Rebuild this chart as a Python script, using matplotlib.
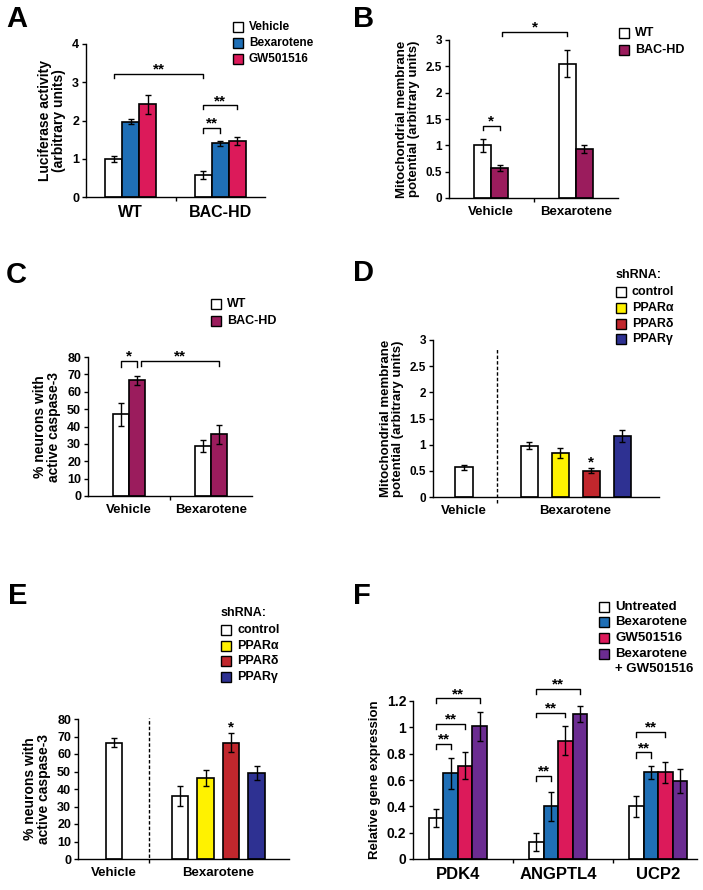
import matplotlib
matplotlib.use("Agg")
import matplotlib.pyplot as plt
import numpy as np
from matplotlib.patches import Rectangle

plt.rcParams['font.family'] = ['Liberation Sans', 'DejaVu Sans']
plt.rcParams['font.weight'] = 'bold'
plt.rcParams['axes.linewidth'] = 1.0

# colours
WHITE = '#ffffff'
BLUE = '#1f6fb6'
PINK = '#dc1a5a'
PURPLE = '#6b2c91'
MAROON = '#9b1c5d'
YELLOW = '#fff200'
RED = '#c1272d'
NAVY = '#2e3192'

# Panel A - luciferase activity
a_groups = ['WT', 'BAC-HD']
a_series = ['Vehicle', 'Bexarotene', 'GW501516']
a_vehicle = [1.0, 0.58]
a_bex = [1.97, 1.40]
a_gw = [2.42, 1.46]
a_vehicle_err = [0.08, 0.11]
a_bex_err = [0.07, 0.07]
a_gw_err = [0.25, 0.11]

# Panel B - mitochondrial membrane potential
b_groups = ['Vehicle', 'Bexarotene']
b_series = ['WT', 'BAC-HD']
b_wt = [1.0, 2.55]
b_hd = [0.57, 0.93]
b_wt_err = [0.12, 0.26]
b_hd_err = [0.05, 0.08]

# Panel C - active caspase-3
c_groups = ['Vehicle', 'Bexarotene']
c_series = ['WT', 'BAC-HD']
c_wt = [47, 29]
c_hd = [66.5, 35.5]
c_wt_err = [6.5, 3.5]
c_hd_err = [2.5, 5.5]

# Panel D - shRNA, membrane potential
sh_labels = ['control', 'PPARα', 'PPARδ', 'PPARγ']
d_vehicle = 0.57
d_vehicle_err = 0.05
d_bex = [0.98, 0.84, 0.50, 1.17]
d_bex_err = [0.07, 0.09, 0.05, 0.11]

# Panel E - shRNA, caspase-3
e_vehicle = 66.5
e_vehicle_err = 2.5
e_bex = [36, 46.5, 66.5, 49]
e_bex_err = [5.5, 4.5, 5.5, 4]

# Panel F - gene expression
f_genes = ['PDK4', 'ANGPTL4', 'UCP2']
f_series = ['Untreated', 'Bexarotene', 'GW501516', 'Bexarotene\n+ GW501516']
f_untreated = [0.31, 0.13, 0.40]
f_bex = [0.65, 0.40, 0.66]
f_gw = [0.71, 0.90, 0.66]
f_combo = [1.01, 1.10, 0.59]
f_untreated_err = [0.07, 0.07, 0.08]
f_bex_err = [0.12, 0.11, 0.05]
f_gw_err = [0.10, 0.11, 0.08]
f_combo_err = [0.11, 0.06, 0.09]

W, H = 703, 890
fig = plt.figure(figsize=(W / 100, H / 100), dpi=100)


def add_ax(l, r, b, t):
    return fig.add_axes([l / W, 1 - b / H, (r - l) / W, (b - t) / H])


def style(ax, ylim, yticks, yticklabels, ylabel, yfs=8, lfs=8.5, lfam=None):
    for s in ['top', 'right']:
        ax.spines[s].set_visible(False)
    ax.set_ylim(*ylim)
    ax.set_yticks(yticks)
    ax.set_yticklabels(yticklabels, fontsize=yfs, fontweight='bold')
    ax.tick_params(axis='y', length=3, width=1, pad=2)
    kw = {}
    if lfam:
        kw['family'] = lfam
    ax.set_ylabel(ylabel, fontsize=lfs, fontweight='bold', linespacing=1.0, **kw)


def bars(ax, x, vals, errs, color, width):
    ax.bar(x, vals, width, color=color, edgecolor='black', linewidth=1.2, zorder=2)
    ax.errorbar(x, vals, yerr=errs, fmt='none', ecolor='black', elinewidth=1,
                capsize=2.2, capthick=1, zorder=3)


def bracket(ax, x1, x2, y, h, txt, fs=11):
    ax.plot([x1, x1, x2, x2], [y - h, y, y, y - h], color='black', lw=1, clip_on=False)
    ax.annotate(txt, ((x1 + x2) / 2, y), xytext=(0, -2), textcoords='offset points',
                ha='center', va='bottom', fontsize=fs, fontweight='bold',
                annotation_clip=False)


def legend(x, ys, labels, colors, fs=8, box=10, gap=6):
    for y, lab, c in zip(ys, labels, colors):
        if c is not None:
            fig.add_artist(Rectangle((x / W, 1 - (y + box / 2) / H), box / W, box / H,
                                     facecolor=c, edgecolor='black', lw=1,
                                     transform=fig.transFigure))
        fig.text((x + box + gap) / W, 1 - y / H, lab, fontsize=fs, fontweight='bold',
                 ha='left', va='center', linespacing=1.0)


def panel_label(x, y, s):
    fig.text(x / W, 1 - y / H, s, fontsize=21, fontweight='bold', ha='left', va='center')


def cat_xaxis(ax, n, labels, fs):
    ax.set_xticks(np.arange(n))
    ax.set_xticklabels(labels, fontsize=fs, fontweight='bold')
    ax.tick_params(axis='x', length=0, pad=6)
    ax.set_xticks(np.arange(n - 1) + 0.5, minor=True)
    ax.tick_params(axis='x', which='minor', length=3, width=1, direction='out')


# ---------- A ----------
ax = add_ax(86, 265, 197, 44)
x = np.arange(len(a_groups))
w = 0.19
bars(ax, x - w, a_vehicle, a_vehicle_err, WHITE, w)
bars(ax, x, a_bex, a_bex_err, BLUE, w)
bars(ax, x + w, a_gw, a_gw_err, PINK, w)
ax.set_xlim(-0.5, 1.5)
style(ax, (0, 4), range(5), [str(i) for i in range(5)],
      'Luciferase activity\n(arbitrary units)', yfs=9, lfs=10)
cat_xaxis(ax, 2, a_groups, 11.5)
bracket(ax, x[0] - w, x[1] - w, 3.22, 0.1, '**')
bracket(ax, x[1] - w, x[1], 1.80, 0.12, '**')
bracket(ax, x[1] - w, x[1] + w, 2.40, 0.1, '**')
legend(233, [27, 43, 59], a_series, [WHITE, BLUE, PINK], fs=8.5)
panel_label(6, 19, 'A')

# ---------- B ----------
ax = add_ax(449, 618, 198, 40)
x = np.arange(len(b_groups))
w = 0.2
bars(ax, x - w / 2, b_wt, b_wt_err, WHITE, w)
bars(ax, x + w / 2, b_hd, b_hd_err, MAROON, w)
ax.set_xlim(-0.5, 1.5)
style(ax, (0, 3), [0, 0.5, 1, 1.5, 2, 2.5, 3], ['0', '0.5', '1', '1.5', '2', '2.5', '3'],
      'Mitochondrial membrane\npotential (arbitrary units)', yfs=8.5, lfs=9.5,
      lfam=['Liberation Sans Narrow', 'Liberation Sans'])
cat_xaxis(ax, 2, b_groups, 9.5)
bracket(ax, x[0] - w / 2, x[0] + w / 2, 1.37, 0.08, '*')
bracket(ax, x[0] + w / 2 + 0.03, x[1] - w / 2, 3.15, 0.08, '*')
legend(619, [33, 50], b_series, [WHITE, MAROON], fs=9)
panel_label(353, 19, 'B')

# ---------- C ----------
ax = add_ax(88, 252, 496, 357)
x = np.arange(len(c_groups))
w = 0.2
bars(ax, x - w / 2, c_wt, c_wt_err, WHITE, w)
bars(ax, x + w / 2, c_hd, c_hd_err, MAROON, w)
ax.set_xlim(-0.5, 1.5)
style(ax, (0, 80), range(0, 81, 10), [str(i) for i in range(0, 81, 10)],
      '% neurons with\nactive caspase-3', yfs=9, lfs=10)
cat_xaxis(ax, 2, c_groups, 9.5)
bracket(ax, x[0] - w / 2, x[0] + w / 2, 77.6, 3.5, '*')
bracket(ax, x[0] + w / 2 + 0.05, x[1] + w / 2, 77.6, 3.0, '**')
legend(211, [304, 321], c_series, [WHITE, MAROON], fs=9)
panel_label(6, 275, 'C')

# ---------- D ----------
ax = add_ax(433, 659, 497, 340)
xb = 2.1 + np.arange(len(sh_labels))
sh_colors = [WHITE, YELLOW, RED, NAVY]
w = 0.55
bars(ax, [0], [d_vehicle], [d_vehicle_err], WHITE, w)
bars(ax, xb, d_bex, d_bex_err, sh_colors, w)
ax.set_xlim(-1.0, 6.29)
style(ax, (0, 3), [0, 0.5, 1, 1.5, 2, 2.5, 3], ['0', '0.5', '1', '1.5', '2', '2.5', '3'],
      'Mitochondrial membrane\npotential (arbitrary units)', yfs=8.5, lfs=9.5,
      lfam=['Liberation Sans Narrow', 'Liberation Sans'])
ax.set_xticks([0, xb.mean()])
ax.set_xticklabels(['Vehicle', 'Bexarotene'], fontsize=9.5, fontweight='bold')
ax.tick_params(axis='x', length=0, pad=6)
ax.axvline(1.06, ymin=-0.04, ymax=0.95, color='black', lw=1, ls=(0, (2.5, 1.5)), clip_on=False)
ax.annotate('*', (xb[2], d_bex[2] + d_bex_err[2] + 0.03), xytext=(0, -2),
            textcoords='offset points', ha='center', va='bottom',
            fontsize=11, fontweight='bold')
fig.text(616 / W, 1 - 275 / H, 'shRNA:', fontsize=9, fontweight='bold', ha='left', va='center')
legend(616, [292, 308, 324, 339], sh_labels, sh_colors, fs=9)
panel_label(353, 273, 'D')

# ---------- E ----------
ax = add_ax(78, 289, 859, 719)
xb = 2.59 + np.arange(len(sh_labels))
w = 0.65
bars(ax, [0], [e_vehicle], [e_vehicle_err], WHITE, w)
bars(ax, xb, e_bex, e_bex_err, sh_colors, w)
ax.set_xlim(-1.41, 6.86)
style(ax, (0, 80), range(0, 81, 10), [str(i) for i in range(0, 81, 10)],
      '% neurons with\nactive caspase-3', yfs=9, lfs=10)
ax.set_xticks([0, xb.mean()])
ax.set_xticklabels(['Vehicle', 'Bexarotene'], fontsize=9.5, fontweight='bold')
ax.tick_params(axis='x', length=0, pad=6)
ax.axvline(1.37, ymin=-0.03, ymax=1.01, color='black', lw=1, ls=(0, (2.5, 1.5)), clip_on=False)
ax.annotate('*', (xb[2], e_bex[2] + e_bex_err[2] + 1), xytext=(0, -2),
            textcoords='offset points', ha='center', va='bottom',
            fontsize=11, fontweight='bold')
fig.text(221 / W, 1 - 613 / H, 'shRNA:', fontsize=9, fontweight='bold', ha='left', va='center')
legend(221, [630, 646, 661, 677], sh_labels, sh_colors, fs=9)
panel_label(8, 596, 'E')

# ---------- F ----------
ax = add_ax(413, 697, 859, 701)
x = np.arange(len(f_genes))
w = 0.145
offs = np.array([-1.5, -0.5, 0.5, 1.5]) * w
f_vals = [f_untreated, f_bex, f_gw, f_combo]
f_errs = [f_untreated_err, f_bex_err, f_gw_err, f_combo_err]
f_colors = [WHITE, BLUE, PINK, PURPLE]
for o, v, e, c in zip(offs, f_vals, f_errs, f_colors):
    bars(ax, x + o, v, e, c, w)
ax.set_xlim(-0.45, 2.39)
style(ax, (0, 1.2), [0, 0.2, 0.4, 0.6, 0.8, 1, 1.2],
      ['0', '0.2', '0.4', '0.6', '0.8', '1', '1.2'],
      'Relative gene expression', yfs=10, lfs=9.5)
cat_xaxis(ax, 3, f_genes, 12)
ax.set_xticks(np.arange(2) + 0.55, minor=True)
# PDK4
bracket(ax, x[0] + offs[0], x[0] + offs[1], 0.873, 0.04, '**')
bracket(ax, x[0] + offs[0], x[0] + offs[2], 1.025, 0.035, '**')
bracket(ax, x[0] + offs[0], x[0] + offs[3], 1.22, 0.035, '**')
# ANGPTL4
bracket(ax, x[1] + offs[0], x[1] + offs[1], 0.63, 0.04, '**')
bracket(ax, x[1] + offs[0], x[1] + offs[2], 1.11, 0.035, '**')
bracket(ax, x[1] + offs[0], x[1] + offs[3], 1.29, 0.035, '**')
# UCP2
bracket(ax, x[2] + offs[0], x[2] + offs[1], 0.81, 0.04, '**')
bracket(ax, x[2] + offs[0], x[2] + offs[2], 0.965, 0.035, '**')
legend(599, [607, 622, 638, 654, 669],
       ['Untreated', 'Bexarotene', 'GW501516', 'Bexarotene', '+ GW501516'],
       [WHITE, BLUE, PINK, PURPLE, None], fs=9.5)
panel_label(353, 596, 'F')

fig.savefig('out.png', dpi=100)
